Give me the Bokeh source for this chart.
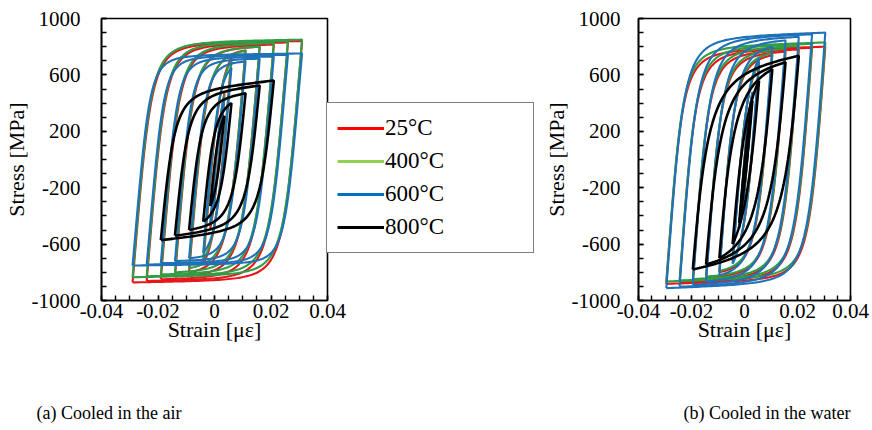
import numpy as np
from bokeh.plotting import figure
from bokeh.models import Range1d, FixedTicker, Legend, LegendItem, ColumnDataSource
from bokeh.layouts import column, row
from bokeh.embed import file_html
from bokeh.resources import INLINE
from bokeh.core.properties import value

# ---------------- data ----------------
temps = ["25°C", "400°C", "600°C", "800°C"]
line_colors = ["#e8161b", "#2f9e44", "#1f72b8", "#000000"]
legend_colors = ["#ff0000", "#92d050", "#0070c0", "#000000"]

x_ticks = [-0.04, -0.02, 0, 0.02, 0.04]
x_tick_labels = ["-0.04", "-0.02", "0", "0.02", "0.04"]
y_ticks = [-1000, -600, -200, 200, 600, 1000]
y_tick_labels = ["-1000", "-600", "-200", "200", "600", "1000"]

# strain amplitudes of the cycles
amp_main = [0.0025, 0.005, 0.01, 0.015, 0.02, 0.025, 0.03]
amp_800 = [0.0025, 0.005, 0.01, 0.015, 0.02]

# (a) cooled in the air: peak stresses [MPa] of each cycle
air_25_top = [470, 720, 775, 800, 815, 830, 840]
air_25_bot = [-490, -740, -800, -830, -850, -862, -872]
air_400_top = [460, 700, 770, 800, 825, 840, 850]
air_400_bot = [-470, -710, -770, -800, -815, -828, -835]
air_600_top = [440, 650, 695, 715, 730, 742, 752]
air_600_bot = [-450, -660, -700, -720, -735, -745, -752]
air_800_top = [310, 400, 470, 525, 560]
air_800_bot = [-330, -440, -500, -540, -572]
air_shift = 0.001

# (b) cooled in the water
wat_25_top = [470, 680, 740, 765, 780, 792, 800]
wat_25_bot = [-480, -720, -800, -840, -860, -872, -882]
wat_400_top = [470, 690, 755, 785, 805, 820, 830]
wat_400_bot = [-480, -720, -790, -830, -848, -858, -865]
wat_600_top = [480, 720, 800, 845, 870, 888, 900]
wat_600_bot = [-490, -740, -820, -865, -888, -902, -912]
wat_800_top = [420, 560, 640, 690, 735]
wat_800_bot = [-450, -600, -700, -745, -780]
wat_shift = 0.0005

# branch-shape parameters (elastic slope, curvature, hardening)
air_E = [240000, 240000, 230000, 200000]
air_R = [2.8, 2.8, 3.2, 2.2]
air_H = [300, 300, 250, 2000]
wat_E = [250000, 250000, 250000, 220000]
wat_R = [2.6, 2.6, 2.6, 1.7]
wat_H = [500, 500, 600, 2500]

FONT = "Liberation Serif"


def fit_Y(E, R, X, T):
    if T >= 0.995 * E * X:
        return None
    lo, hi = 1e-3, 1e8
    for _ in range(120):
        mid = np.sqrt(lo * hi)
        f = E * X / (1 + (E * X / mid) ** R) ** (1 / R)
        if f < T:
            lo = mid
        else:
            hi = mid
    return np.sqrt(lo * hi)


def branch(e0, s0, e1, s1, E, R, H, n=90):
    X = abs(e1 - e0)
    D = abs(s1 - s0)
    d = 1.0 if e1 > e0 else -1.0
    t = np.linspace(0, 1, n)
    x = X * t ** 1.8
    T = D - H * X
    if T <= 0.2 * D:
        T = 0.8 * D
    Hx = (D - T) / X
    Y = fit_Y(E, R, X, T)
    if Y is None:
        y = D * x / X
    else:
        y = E * x / (1 + (E * x / Y) ** R) ** (1 / R) + Hx * x
    return list(e0 + d * x), list(s0 + d * y)


def loops(amps, tops, bots, shift, E, R, H):
    xs, ys = [], []
    for a, st, sb in zip(amps, tops, bots):
        lo, hi = -a + shift, a + shift
        x1, y1 = branch(lo, sb, hi, st, E, R, H)
        x2, y2 = branch(hi, st, lo, sb, E, R, H)
        xs.append(x1 + x2)
        ys.append(y1 + y2)
    return xs, ys


def make_panel(width, bl, br, data, shift, Es, Rs, Hs, label_standoff):
    p = figure(width=width, height=348, x_range=Range1d(-0.04, 0.04),
               y_range=Range1d(-1000, 1000), output_backend="svg",
               toolbar_location=None, min_border_left=bl, min_border_right=br,
               min_border_top=18, min_border_bottom=48)
    p.background_fill_color = "white"
    p.border_fill_color = "white"
    p.grid.visible = False
    p.outline_line_color = "black"
    p.outline_line_width = 1.6
    for i, (amps, tops, bots) in enumerate(data):
        xs, ys = loops(amps, tops, bots, shift, Es[i], Rs[i], Hs[i])
        p.multi_line(xs, ys, line_color=line_colors[i],
                     line_width=2.6 if i == 3 else 2.1)
    p.xaxis.ticker = FixedTicker(ticks=x_ticks,
                                 minor_ticks=list(np.round(np.arange(-0.04, 0.0401, 0.005), 4)))
    p.yaxis.ticker = FixedTicker(ticks=y_ticks,
                                 minor_ticks=list(np.arange(-1000, 1001, 100)))
    p.xaxis.major_label_overrides = {t: l for t, l in zip(x_ticks, x_tick_labels)}
    p.yaxis.major_label_overrides = {t: l for t, l in zip(y_ticks, y_tick_labels)}
    p.xaxis.axis_label = "Strain [με]"
    p.yaxis.axis_label = "Stress [MPa]"
    for ax in (p.xaxis[0], p.yaxis[0]):
        ax.axis_line_color = "black"
        ax.axis_line_width = 1.6
        ax.major_tick_in = 5
        ax.major_tick_out = 0
        ax.minor_tick_in = 5
        ax.minor_tick_out = 0
        ax.major_tick_line_color = "black"
        ax.minor_tick_line_color = "black"
        ax.major_tick_line_width = 1.4
        ax.minor_tick_line_width = 1.4
        ax.major_label_text_font = FONT
        ax.major_label_text_font_size = "21px"
        ax.major_label_text_color = "black"
        ax.axis_label_text_font = FONT
        ax.axis_label_text_font_size = "22px"
        ax.axis_label_text_font_style = "normal"
        ax.axis_label_text_color = "black"
    p.xaxis.major_label_standoff = 3
    p.xaxis.axis_label_standoff = -4
    p.yaxis.major_label_standoff = label_standoff
    p.yaxis.axis_label_standoff = 0
    return p


air_data = [(amp_main, air_25_top, air_25_bot), (amp_main, air_400_top, air_400_bot),
            (amp_main, air_600_top, air_600_bot), (amp_800, air_800_top, air_800_bot)]
wat_data = [(amp_main, wat_25_top, wat_25_bot), (amp_main, wat_400_top, wat_400_bot),
            (amp_main, wat_600_top, wat_600_bot), (amp_800, wat_800_top, wat_800_bot)]

pa = make_panel(352, 101, 25, air_data, air_shift, air_E, air_R, air_H, 21)
pb = make_panel(332, 80, 22, wat_data, wat_shift, wat_E, wat_R, wat_H, 18)

# legend: its own transparent figure, pulled left over panel (a)'s right edge
leg = figure(width=214, height=348, x_range=Range1d(0, 1), y_range=Range1d(0, 1),
             output_backend="svg", toolbar_location=None, min_border=0,
             x_axis_type=None, y_axis_type=None, margin=(0, 0, 0, -26))
leg.grid.visible = False
leg.outline_line_color = None
leg.background_fill_color = None
leg.border_fill_color = None
items = []
for t, c in zip(temps, legend_colors):
    r = leg.line(x="x", y="y", source=ColumnDataSource(dict(x=[np.nan], y=[np.nan])),
                 line_color=c, line_width=3)
    items.append(LegendItem(label=t, renderers=[r]))
legend = Legend(items=items, location=(0, 47), margin=0, padding=10, spacing=3,
                label_height=30, glyph_height=30, glyph_width=47, label_standoff=1,
                label_width=138, border_line_color="black", border_line_width=1.5,
                background_fill_color="white", background_fill_alpha=1.0,
                label_text_font=FONT, label_text_font_size="23px",
                label_text_color="black")
leg.add_layout(legend, "center")

# captions
cap = figure(width=872, height=80, x_range=Range1d(0, 872), y_range=Range1d(0, 80),
             output_backend="svg", toolbar_location=None, min_border=0)
cap.axis.visible = False
cap.grid.visible = False
cap.outline_line_color = None
cap.text(x=[36, 683], y=[16, 16], text=["(a) Cooled in the air", "(b) Cooled in the water"],
         text_font=value(FONT), text_font_size="18px", text_baseline="middle",
         text_align="left", text_color="black")

layout = column(row(pa, leg, pb), cap)
open("out.html", "w").write(file_html(layout, INLINE))
